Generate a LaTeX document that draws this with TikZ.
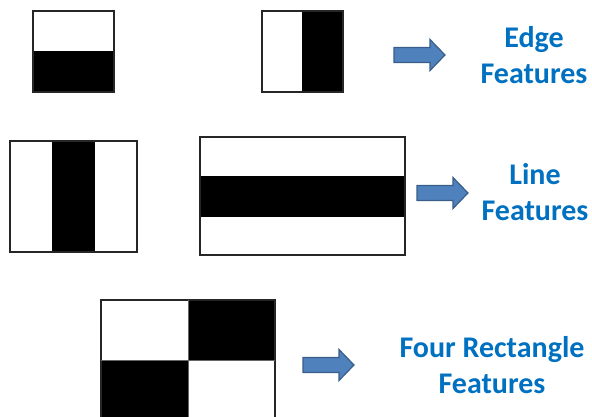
\documentclass[tikz,border=0pt]{standalone}
\usepackage{fontspec}
\setmainfont{Carlito}
\definecolor{labelblue}{HTML}{0070C0}
\definecolor{arrowfill}{HTML}{4F81BD}
\definecolor{arrowedge}{HTML}{385D8A}
\tikzset{
  frame/.style={draw=black!85, line width=1.3pt},
  dark/.style={fill=black},
  label/.style={text=labelblue, font=\bfseries\fontsize{30}{36}\selectfont, align=center, anchor=base, inner sep=0pt},
  blockarrow/.pic={
    \draw[fill=arrowfill, draw=arrowedge, line width=1.2pt, line join=miter]
      (0,-7.5) -- (36,-7.5) -- (36,-15.5) -- (51,0) -- (36,15.5) -- (36,7.5) -- (0,7.5) -- cycle;
  }
}
\begin{document}
\begin{tikzpicture}[x=1pt,y=-1pt]
  \useasboundingbox (0,0) rectangle (592,416);
  % edge features
  \fill[dark] (33,51) rectangle (114,92);
  \draw[frame] (33,11) rectangle (114,92);
  \fill[dark] (302,11) rectangle (343,92);
  \draw[frame] (262,11) rectangle (343,92);
  % line features
  \fill[dark] (52,141) rectangle (95,252);
  \draw[frame] (10,141) rectangle (137,252);
  \fill[dark] (200,176) rectangle (405,217);
  \draw[frame] (200,137) rectangle (405,255);
  % four rectangle feature
  \fill[dark] (188,300) rectangle (275,360);
  \fill[dark] (101,360) rectangle (188,425);
  \draw[frame] (101,425) -- (101,300) -- (275,300) -- (275,425);
  \draw[frame, draw=black!60, line width=0.8pt] (188,300) -- (188,425) (101,360) -- (275,360);
  % arrows
  \pic at (394,55) {blockarrow};
  \pic at (417,193) {blockarrow};
  \pic at (303,365) {blockarrow};
  % labels
  \node[label] (edge) at (534,83) {Edge\\Features};
  \node[label] (line) at (535,220) {Line\\Features};
  \node[label] (four) at (492,393) {Four Rectangle\\Features};
\end{tikzpicture}
\end{document}
